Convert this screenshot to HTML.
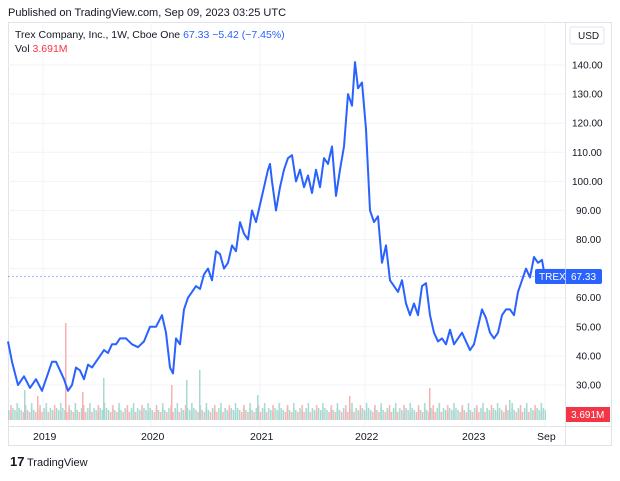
<!DOCTYPE html>
<html><head><meta charset="utf-8"><style>
body{margin:0;background:#fff;font-family:"Liberation Sans",sans-serif}
</style></head><body>
<svg width="620" height="476" xmlns="http://www.w3.org/2000/svg" font-family="Liberation Sans, sans-serif">
<defs>
<pattern id="v1" x="8" y="0" width="6.24" height="476" patternUnits="userSpaceOnUse">
<rect x="0" y="410" width="1.5" height="10" fill="#a5d8d0"/>
<rect x="2.08" y="412" width="1.5" height="8" fill="#f7b1b1"/>
<rect x="4.16" y="408" width="1.5" height="12" fill="#a5d8d0"/>
</pattern>
<pattern id="v2" x="9" y="0" width="14.56" height="476" patternUnits="userSpaceOnUse">
<rect x="1.2" y="405" width="1.5" height="15" fill="#f7b1b1"/>
<rect x="7.4" y="403" width="1.5" height="17" fill="#a5d8d0"/>
</pattern>
</defs>
<rect width="620" height="476" fill="#fff"/>
<text x="8" y="16" font-size="11" fill="#131722">Published on TradingView.com, Sep 09, 2023 03:25 UTC</text>
<rect x="8.5" y="22.5" width="603" height="423" fill="none" stroke="#e0e3eb"/>
<line x1="565.5" y1="22" x2="565.5" y2="446" stroke="#e0e3eb"/>
<line x1="8" y1="426.5" x2="612" y2="426.5" stroke="#e0e3eb"/>
<g stroke="#f0f3fa">
<line x1="8" y1="65" x2="565" y2="65"/><line x1="8" y1="94.1" x2="565" y2="94.1"/><line x1="8" y1="123.2" x2="565" y2="123.2"/><line x1="8" y1="152.3" x2="565" y2="152.3"/><line x1="8" y1="181.4" x2="565" y2="181.4"/><line x1="8" y1="210.5" x2="565" y2="210.5"/><line x1="8" y1="239.5" x2="565" y2="239.5"/><line x1="8" y1="268.6" x2="565" y2="268.6"/><line x1="8" y1="297.7" x2="565" y2="297.7"/><line x1="8" y1="326.8" x2="565" y2="326.8"/><line x1="8" y1="355.9" x2="565" y2="355.9"/><line x1="8" y1="385" x2="565" y2="385"/>
<line x1="43" y1="22" x2="43" y2="426"/><line x1="151" y1="22" x2="151" y2="426"/><line x1="260" y1="22" x2="260" y2="426"/><line x1="365" y1="22" x2="365" y2="426"/><line x1="472" y1="22" x2="472" y2="426"/><line x1="545" y1="22" x2="545" y2="426"/>
</g>
<text x="15" y="38" font-size="10.5" fill="#131722">Trex Company, Inc., 1W, Cboe One <tspan fill="#2962ff">67.33  −5.42 (−7.45%)</tspan></text>
<text x="15" y="52" font-size="10.5" fill="#131722">Vol <tspan fill="#f23645">3.691M</tspan></text>
<text x="578" y="39" font-size="10" fill="#131722">USD</text>
<rect x="570" y="27" width="34" height="17" rx="2" fill="none" stroke="#e0e3eb"/>
<rect x="8" y="400" width="538" height="20" fill="url(#v1)"/>
<rect x="8" y="400" width="538" height="20" fill="url(#v2)"/>
<g>
<rect x="65" y="323" width="1.5" height="97" fill="#f7b1b1"/>
<rect x="199" y="370" width="1.5" height="50" fill="#a5d8d0"/>
<rect x="186" y="380" width="1.5" height="40" fill="#a5d8d0"/>
<rect x="103" y="378" width="1.5" height="42" fill="#a5d8d0"/>
<rect x="171" y="385" width="1.5" height="35" fill="#f7b1b1"/>
<rect x="24" y="390" width="1.5" height="30" fill="#a5d8d0"/>
<rect x="82" y="392" width="1.5" height="28" fill="#f7b1b1"/>
<rect x="429" y="388" width="1.5" height="32" fill="#f7b1b1"/>
<rect x="509" y="400" width="1.5" height="20" fill="#a5d8d0"/>
<rect x="257" y="395" width="1.5" height="25" fill="#a5d8d0"/>
<rect x="349" y="396" width="1.5" height="24" fill="#f7b1b1"/>
<rect x="37" y="396" width="1.5" height="24" fill="#f7b1b1"/>
</g>
<line x1="8" y1="276.5" x2="565" y2="276.5" stroke="#2962ff" stroke-dasharray="2,2" stroke-width="0.7" opacity="0.6"/>
<polyline fill="none" stroke="#2962ff" stroke-width="2" stroke-linejoin="round" points="8,341.4 12,361.7 18,385 24,376.3 30,387.9 36,379.2 42,390.8 48,373.4 52,361.7 56,361.7 60,370.4 64,379.2 68,390.8 72,385 76,367.5 80,370.4 84,379.2 88,364.6 92,367.5 96,361.7 100,355.9 104,350.1 108,353 112,344.3 116,344.3 120,338.4 126,338.4 132,344.3 138,347.2 144,341.4 150,326.8 156,326.8 162,315.2 166,332.7 170,367.5 173,373.4 176,338.4 180,344.3 184,309.4 188,297.7 192,291.9 196,286.1 200,289 204,274.4 208,268.6 212,280.3 216,251.2 220,254.1 224,268.6 228,262.8 232,245.4 236,251.2 240,222.1 244,233.7 248,239.5 252,210.5 256,222.1 260,204.6 264,187.2 268,169.7 270,163.9 272,181.4 276,210.5 280,187.2 284,169.7 288,158.1 292,155.2 296,181.4 300,169.7 304,187.2 308,175.5 312,193 316,169.7 320,187.2 324,158.1 328,163.9 332,146.5 336,195.9 340,169.7 344,146.5 348,94.1 352,105.7 355,62.1 358,88.3 362,82.5 366,129 370,210.5 374,222.1 378,216.3 382,262.8 386,245.4 390,280.3 394,286.1 398,291.9 402,280.3 406,303.5 410,315.2 414,303.5 418,315.2 422,286.1 426,283.2 430,315.2 434,332.7 438,341.4 442,338.4 446,344.3 450,329.7 454,344.3 458,338.4 462,332.7 466,341.4 470,350.1 474,344.3 478,326.8 482,309.4 486,318.1 490,332.7 494,338.4 498,332.7 502,315.2 506,309.4 510,309.4 514,315.2 518,291.9 522,280.3 526,268.6 530,277.4 534,257 538,262.8 542,259.9 545,277.4"/>
<g font-size="10" fill="#131722">
<text x="572" y="68.5">140.00</text><text x="572" y="97.6">130.00</text><text x="572" y="126.7">120.00</text><text x="572" y="155.8">110.00</text><text x="572" y="184.9">100.00</text><text x="576" y="214">90.00</text><text x="576" y="243">80.00</text><text x="576" y="301.2">60.00</text><text x="576" y="330.3">50.00</text><text x="576" y="359.4">40.00</text><text x="576" y="388.5">30.00</text>
</g>
<rect x="535" y="269" width="67" height="15" rx="2" fill="#2962ff"/>
<line x1="565.5" y1="269" x2="565.5" y2="284" stroke="#fff" opacity="0.6"/>
<text x="539" y="280" font-size="10" fill="#fff">TREX</text>
<text x="571" y="280" font-size="10" fill="#fff">67.33</text>
<rect x="566" y="407" width="44" height="15" fill="#f23645"/>
<text x="571" y="418" font-size="10" fill="#fff">3.691M</text>
<g font-size="10.5" fill="#131722">
<text x="33" y="440">2019</text><text x="141" y="440">2020</text><text x="250" y="440">2021</text><text x="355" y="440">2022</text><text x="462" y="440">2023</text><text x="537" y="440">Sep</text>
</g>
<text x="10" y="466" font-size="13" font-weight="bold" fill="#131722">17</text>
<text x="27" y="466" font-size="11" fill="#131722">TradingView</text>
</svg>
</body></html>
